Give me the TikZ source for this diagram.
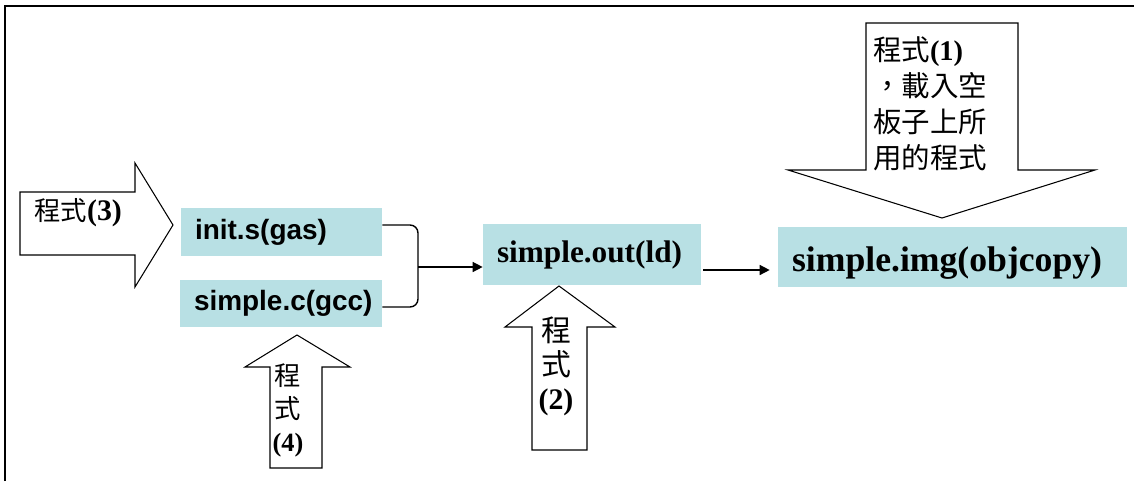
\documentclass[tikz,border=0pt]{standalone}
\usepackage{fontspec}
\setmainfont{Liberation Serif}
\newfontfamily\arialfont{Liberation Sans}
\newfontfamily\cjkfont{Noto Sans CJK TC}
\usetikzlibrary{arrows.meta,positioning,calc}
\definecolor{boxcyan}{RGB}{184,224,228}

\begin{document}
\begin{tikzpicture}[x=0.02cm,y=-0.02cm,
  file/.style={fill=boxcyan,inner xsep=0.28cm,inner ysep=0pt,align=left},
  blockarrow/.style={draw,fill=white,line width=0.6pt},
  prog/.style={inner sep=0pt,align=center},
  conn/.style={line width=0.8pt,-{Triangle[length=0.2cm,width=0.2cm]}}]
\useasboundingbox (0,0) rectangle (1134,481);
\draw[line width=0.04cm] (5,481) -- (5,6) -- (1134,6);

\node[file,minimum height=0.96cm,text width=3.46cm,font=\arialfont\bfseries\fontsize{15.9pt}{19pt}\selectfont] (gas) at (281.5,232) {init.s(gas)};
\node[file,minimum height=0.94cm,text width=3.48cm,font=\arialfont\bfseries\fontsize{15.9pt}{19pt}\selectfont] (gcc) at (281,303.5) {simple.c(gcc)};
\node[file,minimum height=1.22cm,text width=3.80cm,font=\bfseries\fontsize{17.8pt}{21pt}\selectfont] (out) at (592,254.5) {simple.out(ld)};
\node[file,minimum height=1.2cm,text width=6.42cm,text height=0.74cm,text depth=0.16cm,font=\bfseries\fontsize{20.3pt}{24pt}\selectfont] (img) at (952.5,257) {simple.img(objcopy)};

\draw[blockarrow] (20,192) -- (135,192) -- (135,163) -- (173,225) -- (135,287) -- (135,255) -- (20,255) -- cycle;
\draw[blockarrow] (297,335) -- (350,367) -- (322,367) -- (322,468) -- (270,468) -- (270,367) -- (245,367) -- cycle;
\draw[blockarrow] (559,286) -- (615,327) -- (587,327) -- (587,450) -- (532,450) -- (532,327) -- (505,327) -- cycle;
\draw[blockarrow] (866,23) -- (1018,23) -- (1018,170) -- (1095,170) -- (942,218) -- (788,170) -- (866,170) -- cycle;

\node[prog,anchor=west,font=\cjkfont\fontsize{15pt}{18pt}\selectfont] (p3) at (34,213) {程式{\rmfamily\bfseries\fontsize{17pt}{18pt}\selectfont(3)}};
\node[prog,align=left,font=\cjkfont\fontsize{16.2pt}{20.5pt}\selectfont] (p1) at (930,104) {程式{\rmfamily\bfseries(1)}\\，載入空\\板子上所\\用的程式};
\node[prog,font=\cjkfont\fontsize{15pt}{18.8pt}\selectfont] (p4) at (288,410) {程\\式\\{\rmfamily\bfseries(4)}};
\node[prog,font=\cjkfont\fontsize{17pt}{19.3pt}\selectfont] (p2) at (556,366) {程\\式\\{\rmfamily\bfseries(2)}};

\coordinate (join) at (418,267);
\draw[line width=0.8pt,rounded corners=0.16cm] ([yshift=0.14cm]gas.east) -| (join) |- ([yshift=-0.07cm]gcc.east);
\draw[conn] (join) -- (join -| out.west);
\draw[conn] ($(out.east)+(2,15.5)$) -- ($(out.east -| img.west)+(-8,15.5)$);
\end{tikzpicture}
\end{document}
